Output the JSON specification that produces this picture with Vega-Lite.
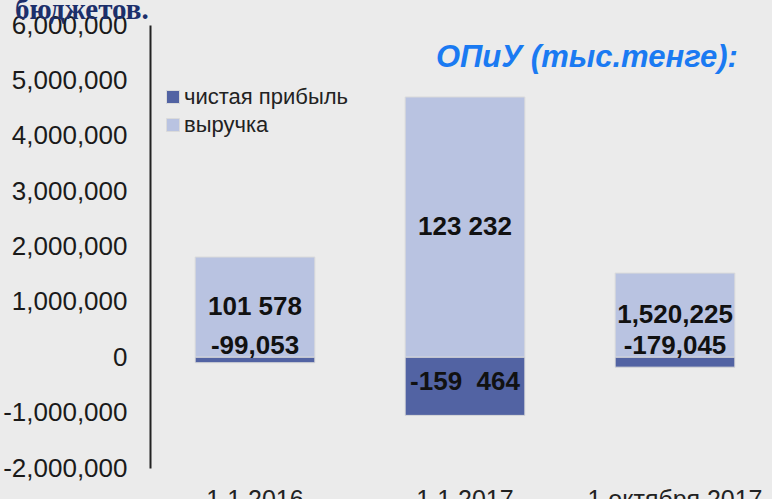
{
  "$schema": "https://vega.github.io/schema/vega-lite/v6.json",
  "width": 630,
  "height": 443,
  "autosize": {"type": "none"},
  "padding": {"left": 150, "top": 25, "right": 0, "bottom": 31},
  "background": "#ebebeb",
  "title": {
    "text": "бюджетов.",
    "anchor": "start",
    "frame": "group",
    "font": "Liberation Serif",
    "fontSize": 29,
    "fontWeight": "bold",
    "color": "#1c2f6b",
    "dx": -135,
    "dy": 36,
    "offset": 0,
    "baseline": "alphabetic"
  },
  "config": {
    "font": "Liberation Sans",
    "view": {"stroke": null},
    "locale": {"number": {"decimal": ".", "thousands": ",", "grouping": [3], "currency": ["$", ""], "minus": "-"}}
  },
  "datasets": {
    "bars": [
      {"date": "1.1.2016", "series": "выручка", "value": 1810000, "label": "101 578"},
      {"date": "1.1.2016", "series": "чистая прибыль", "value": -99053, "label": "-99,053"},
      {"date": "1.1.2017", "series": "выручка", "value": 4700000, "label": "123 232"},
      {"date": "1.1.2017", "series": "чистая прибыль", "value": -1050000, "label": "-159\u00a0\u00a0464"},
      {"date": "1 октября 2017", "series": "выручка", "value": 1520225, "label": "1,520,225"},
      {"date": "1 октября 2017", "series": "чистая прибыль", "value": -179045, "label": "-179,045"}
    ]
  },
  "encoding": {
    "x": {
      "field": "date",
      "type": "nominal",
      "sort": ["1.1.2016", "1.1.2017", "1 октября 2017"],
      "scale": {"paddingInner": 0.43, "paddingOuter": 0.215},
      "axis": {"title": null, "labelAngle": 0, "domain": false, "ticks": false, "labelPadding": 19, "labelFontSize": 25, "labelColor": "#222222", "labelBaseline": "top"}
    }
  },
  "layer": [
    {
      "mark": {"type": "rule", "color": "#222222", "strokeWidth": 1.5},
      "encoding": {"x": null, "y": {"datum": 0, "type": "quantitative"}}
    },
    {
      "data": {"name": "bars"},
      "mark": {"type": "bar", "stroke": "#dadada", "strokeWidth": 1},
      "encoding": {
        "y": {
          "field": "value",
          "type": "quantitative",
          "stack": "zero",
          "scale": {"domain": [-2000000, 6000000], "nice": false},
          "axis": {
            "title": null,
            "values": [-2000000, -1000000, 0, 1000000, 2000000, 3000000, 4000000, 5000000, 6000000],
            "format": ",d",
            "grid": false,
            "ticks": false,
            "domain": true,
            "domainColor": "#222222",
            "domainWidth": 2,
            "labelPadding": 23,
            "labelFontSize": 26,
            "labelColor": "#1a1a1a"
          }
        },
        "color": {
          "field": "series",
          "type": "nominal",
          "scale": {"domain": ["чистая прибыль", "выручка"], "range": ["#5263a3", "#b9c3e1"]},
          "legend": {
            "title": null,
            "orient": "none",
            "legendX": 12,
            "legendY": 61,
            "padding": 0,
            "symbolType": "square",
            "symbolSize": 169,
            "symbolStrokeColor": "#dadada",
            "symbolStrokeWidth": 1,
            "labelFontSize": 22,
            "labelLimit": 0,
            "labelColor": "#222222",
            "labelOffset": 0,
            "rowPadding": 6
          }
        }
      }
    },
    {
      "data": {"name": "bars"},
      "transform": [
        {"calculate": "datum.value > 0 ? datum.value / 2 : (datum.value < -500000 ? datum.value * 0.42 : 200000)", "as": "ly"}
      ],
      "mark": {"type": "text", "fontSize": 26, "fontWeight": "bold", "color": "#111111", "baseline": "middle"},
      "encoding": {
        "y": {"field": "ly", "type": "quantitative"},
        "text": {"field": "label"}
      }
    },
    {
      "data": {"values": [{"t": "ОПиУ (тыс.тенге):", "date": "1 октября 2017", "v": 5400000}]},
      "mark": {"type": "text", "fontSize": 31, "fontWeight": "bold", "fontStyle": "italic", "color": "#1a7af2", "align": "right", "baseline": "middle", "dx": 3},
      "encoding": {
        "x": {"field": "date", "type": "nominal", "sort": ["1.1.2016", "1.1.2017", "1 октября 2017"], "bandPosition": 1},
        "y": {"field": "v", "type": "quantitative"},
        "text": {"field": "t"}
      }
    }
  ]
}
